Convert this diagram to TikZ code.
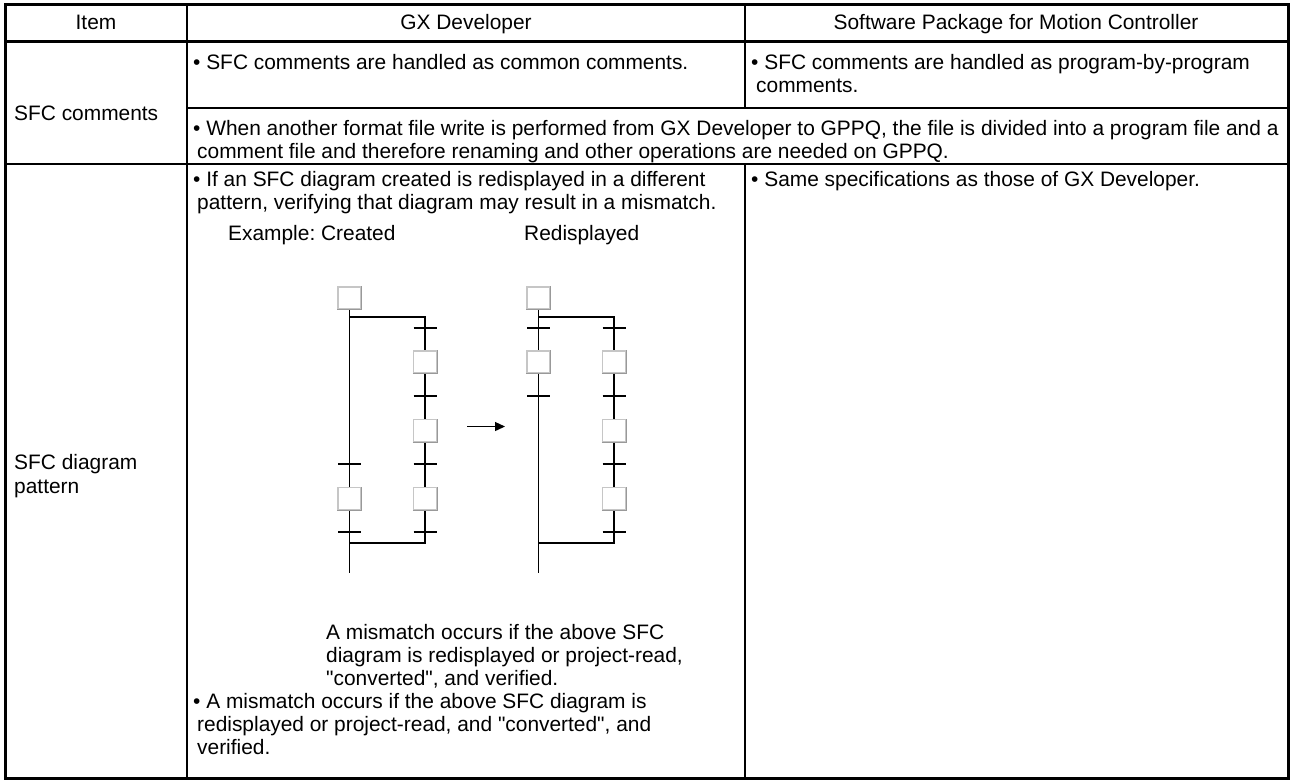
\documentclass[tikz,border=0pt]{standalone}
\usepackage{fontspec}
\setmainfont{Liberation Sans}
\usetikzlibrary{arrows.meta}
\frenchspacing
\begin{document}
\begin{tikzpicture}[x=1pt,y=-1pt,
  txt/.style={anchor=base west, inner sep=0pt, font=\fontsize{20.9}{24}\selectfont},
  hdr/.style={anchor=base, inner sep=0pt, font=\fontsize{20.9}{24}\selectfont},
  stepbox/.style={draw=gray!45, line width=1.4pt, fill=white, minimum width=23pt, minimum height=22pt, inner sep=0pt},
  shade/.style={draw=gray!80, line width=1.4pt},
  wire/.style={line width=1.3pt},
  frame/.style={line width=3pt},
  colline/.style={line width=2pt},
  rowline/.style={line width=1.6pt}]
\useasboundingbox (0,0) rectangle (1292,780);
% table frame
\draw[frame] (5,4) rectangle (1288,778);
\draw[frame] (5,41) -- (1288,41);
\draw[colline] (187,4) -- (187,778);
\draw[colline] (745,4) -- (745,108);
\draw[colline] (745,164) -- (745,778);
\draw[rowline] (187,108) -- (1288,108);
\draw[rowline] (5,164) -- (1288,164);
% header
\node[hdr] (h1) at (96,29) {Item};
\node[hdr] (h2) at (466,29) {GX Developer};
\node[hdr] (h3) at (1016,29) {Software Package for Motion Controller};
% item column
\node[txt] (l1) at (14,120) {SFC comments};
\node[txt] (l2) at (14,469) {SFC diagram};
\node[txt] (l3) at (14,493) {pattern};
% SFC comments row
\node[txt] (t1) at (193,69) {• SFC comments are handled as common comments.};
\node[txt] (t2) at (751,69) {• SFC comments are handled as program-by-program};
\node[txt] (t3) at (756,92) {comments.};
\node[txt] (t4) at (193,135) {• When another format file write is performed from GX Developer to GPPQ, the file is divided into a program file and a};
\node[txt] (t5) at (197,158) {comment file and therefore renaming and other operations are needed on GPPQ.};
% SFC diagram row
\node[txt] (t6) at (193,186) {• If an SFC diagram created is redisplayed in a different};
\node[txt] (t7) at (197,209) {pattern, verifying that diagram may result in a mismatch.};
\node[txt] (t8) at (751,186) {• Same specifications as those of GX Developer.};
\node[txt] (ex1) at (228,240) {Example: Created};
\node[txt] (ex2) at (524,240) {Redisplayed};
\node[txt] (m1) at (326,639) {A mismatch occurs if the above SFC};
\node[txt] (m2) at (326,662) {diagram is redisplayed or project-read,};
\node[txt] (m3) at (326,685) {\textquotedbl converted\textquotedbl, and verified.};
\node[txt] (m4) at (193,708) {• A mismatch occurs if the above SFC diagram is};
\node[txt] (m5) at (197,731) {redisplayed or project-read, and \textquotedbl converted\textquotedbl, and};
\node[txt] (m6) at (197,754) {verified.};
% ---- Created diagram ----
\node[stepbox] (c0) at (349.5,298) {};
\node[stepbox] (cR1) at (425,362) {};
\node[stepbox] (cR2) at (425,430.5) {};
\node[stepbox] (cR3) at (425,498.5) {};
\node[stepbox] (cL1) at (349.5,498.5) {};
\coordinate (cTL) at (349.5,317);
\coordinate (cTR) at (425,317);
\coordinate (cBL) at (349.5,543);
\coordinate (cBR) at (425,543);
\coordinate (cEnd) at (349.5,573);
\draw[wire] (c0.south) -- (cL1.north);
\draw[wire] (cL1.south) -- (cEnd);
\draw[wire] (cTL) -- (cTR) -- (cR1.north);
\draw[wire] (cR1.south) -- (cR2.north);
\draw[wire] (cR2.south) -- (cR3.north);
\draw[wire] (cR3.south) -- (cBR) -- (cBL);
\foreach \x/\y in {425/328,425/396,425/464,425/532,349.5/464,349.5/532}
  \draw[wire] (\x-11.5,\y) -- (\x+11.5,\y);
% arrow
\coordinate (a1) at (467,426.5);
\coordinate (a2) at (505,426.5);
\draw[wire,-{Triangle[length=10pt,width=9pt]}] (a1) -- (a2);
% ---- Redisplayed diagram ----
\node[stepbox] (r0) at (538.5,298) {};
\node[stepbox] (rL1) at (538.5,362) {};
\node[stepbox] (rR1) at (614,362) {};
\node[stepbox] (rR2) at (614,430.5) {};
\node[stepbox] (rR3) at (614,498.5) {};
\coordinate (rTL) at (538.5,317);
\coordinate (rTR) at (614,317);
\coordinate (rBL) at (538.5,543);
\coordinate (rBR) at (614,543);
\coordinate (rEnd) at (538.5,573);
\draw[wire] (r0.south) -- (rL1.north);
\draw[wire] (rL1.south) -- (rEnd);
\draw[wire] (rTL) -- (rTR) -- (rR1.north);
\draw[wire] (rR1.south) -- (rR2.north);
\draw[wire] (rR2.south) -- (rR3.north);
\draw[wire] (rR3.south) -- (rBR) -- (rBL);
\foreach \x/\y in {538.5/328,538.5/396,614/328,614/396,614/464,614/532}
  \draw[wire] (\x-11.5,\y) -- (\x+11.5,\y);
% darker bottom/right edges of the step boxes
\foreach \n in {c0,cR1,cR2,cR3,cL1,r0,rL1,rR1,rR2,rR3}
  \draw[shade] (\n.south west) -- (\n.south east) -- (\n.north east);
\end{tikzpicture}
\end{document}
